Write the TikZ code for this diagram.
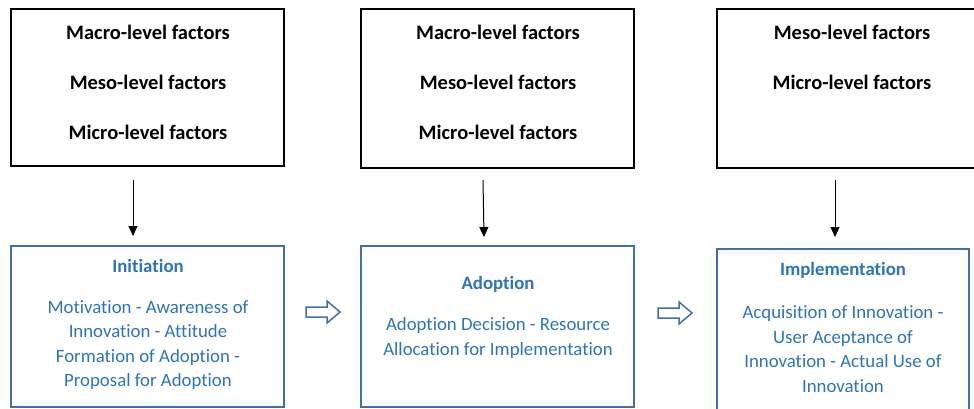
\documentclass[tikz,border=0pt]{standalone}
\usepackage{fontspec}
\setmainfont[Ligatures=NoCommon]{Carlito}
\usetikzlibrary{arrows.meta}
\definecolor{txtblue}{HTML}{2E74B5}
\definecolor{boxblue}{HTML}{41719C}
\tikzset{
  factorbox/.style={draw=black, line width=2.2pt, inner sep=0pt},
  stagebox/.style={draw=boxblue, line width=2pt, inner sep=0pt},
  factortext/.style={inner sep=0pt, font=\bfseries\fontsize{20.5}{24}\selectfont, text=black},
  stagetitle/.style={inner sep=0pt, font=\bfseries\fontsize{18.8}{24.5}\selectfont, text=txtblue},
  stagebody/.style={inner sep=0pt, align=center, font=\fontsize{18.8}{24.5}\selectfont, text=txtblue},
  downarrow/.style={line width=1pt, -{Triangle[width=9pt,length=10pt]}},
  hollowarrow/.style={draw=boxblue, line width=1.5pt, fill=white, line join=miter}
}
\begin{document}
\begin{tikzpicture}[x=1pt,y=-1pt]
\useasboundingbox (0,0) rectangle (974,409);
\clip (0,0) rectangle (974,409);
% top factor boxes
\node[factorbox, minimum width=273pt, minimum height=157pt] (t1) at (147.5,87.5) {};
\node[factorbox, minimum width=273pt, minimum height=159pt] (t2) at (497.5,88.5) {};
\node[factorbox, minimum width=276pt, minimum height=159pt] (t3) at (855,88.5) {};
\node[factortext] (t1a) at (148,32) {Macro-level factors};
\node[factortext] (t1b) at (148,82) {Meso-level factors};
\node[factortext] (t1c) at (148,132) {Micro-level factors};
\node[factortext] (t2a) at (498,32) {Macro-level factors};
\node[factortext] (t2b) at (498,82) {Meso-level factors};
\node[factortext] (t2c) at (498,132) {Micro-level factors};
\node[factortext] (t3a) at (852,32) {Meso-level factors};
\node[factortext] (t3b) at (852,82) {Micro-level factors};
% stage boxes
\node[stagebox, minimum width=273pt, minimum height=161pt] (b1) at (147.5,326.5) {};
\node[stagebox, minimum width=273pt, minimum height=161pt] (b2) at (497.5,326.5) {};
\node[stagebox, minimum width=252pt, minimum height=171pt] (b3) at (843,334.5) {};
\node[stagetitle] (b1t) at (148,266) {Initiation};
\node[stagebody] (b1b) at (148,345) {Motivation - Awareness of\\Innovation - Attitude\\Formation of Adoption -\\Proposal for Adoption};
\node[stagetitle] (b2t) at (498,284) {Adoption};
\node[stagebody] (b2b) at (498,338) {Adoption Decision - Resource\\Allocation for Implementation};
\node[stagetitle] (b3t) at (843,270) {Implementation};
\node[stagebody] (b3b) at (843,349) {Acquisition of Innovation -\\User Aceptance of\\Innovation - Actual Use of\\Innovation};
% down arrows
\coordinate (d1s) at (133,180); \coordinate (d1e) at (133,236);
\coordinate (d2s) at (483,180); \coordinate (d2e) at (484,237);
\coordinate (d3s) at (835,180); \coordinate (d3e) at (835,237);
\draw[downarrow] (d1s) -- (d1e);
\draw[downarrow] (d2s) -- (d2e);
\draw[downarrow] (d3s) -- (d3e);
% hollow right arrows
\coordinate (h1) at (306,312);
\coordinate (h2) at (658,313);
\foreach \h in {h1,h2}{
  \draw[hollowarrow] (\h) ++(0,-5) -- ++(21,0) -- ++(0,-6) -- ++(13,11) -- ++(-13,11) -- ++(0,-6) -- ++(-21,0) -- cycle;
}
\end{tikzpicture}
\end{document}
